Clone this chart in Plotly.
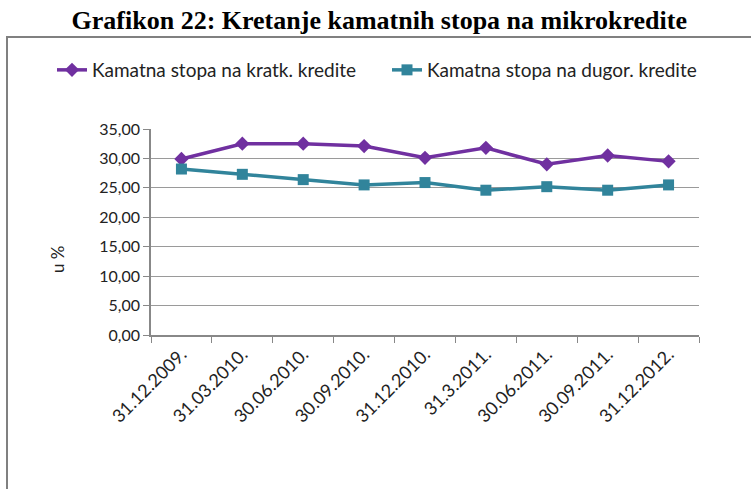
import plotly.graph_objects as go

categories = ["31.12.2009.", "31.03.2010.", "30.06.2010.", "30.09.2010.", "31.12.2010.",
              "31.3.2011.", "30.06.2011.", "30.09.2011.", "31.12.2012."]
short_term = [29.9, 32.5, 32.5, 32.1, 30.1, 31.8, 29.0, 30.5, 29.5]
long_term = [28.2, 27.3, 26.4, 25.5, 25.9, 24.6, 25.2, 24.6, 25.5]
series_names = ["Kamatna stopa na kratk. kredite", "Kamatna stopa na dugor. kredite"]
y_ticks = [0, 5, 10, 15, 20, 25, 30, 35]

W, H = 751, 489
L, R, T, B = 151, 52, 129, 154
pw, ph = W - L - R, H - T - B

def px(x):
    return (x - L) / pw

def py(y):
    return (H - B - y) / ph

font_main = "Lato, sans-serif"

fig = go.Figure()
fig.add_trace(go.Scatter(
    x=categories, y=short_term, name=series_names[0], mode="lines+markers",
    line=dict(color="#7030A0", width=3.5),
    marker=dict(symbol="diamond", size=11, color="#7030A0"),
))
fig.add_trace(go.Scatter(
    x=categories, y=long_term, name=series_names[1], mode="lines+markers",
    line=dict(color="#31849B", width=3.5),
    marker=dict(symbol="square", size=11, color="#31849B"),
))

fig.update_layout(
    width=W, height=H,
    margin=dict(l=L, r=R, t=T, b=B, autoexpand=False),
    paper_bgcolor="white", plot_bgcolor="white",
    separators=",.",
    title=dict(text="<b>Grafikon 22: Kretanje kamatnih stopa na mikrokredite</b>",
               x=0.505, xref="container", xanchor="center",
               y=1 - 20 / H, yref="container", yanchor="middle",
               font=dict(family="Liberation Serif, Times New Roman, serif", size=26, color="black")),
    legend=dict(orientation="h", x=px(52), xanchor="left", y=py(70), yanchor="middle",
                font=dict(family=font_main, size=19, color="#222"),
                itemwidth=30, entrywidth=290, entrywidthmode="pixels",
                tracegroupgap=0, bgcolor="rgba(0,0,0,0)"),
    showlegend=True,
    shapes=[dict(type="rect", xref="paper", yref="paper",
                 x0=px(7), x1=px(W + 20), y0=py(H + 20), y1=py(37),
                 line=dict(color="#808080", width=2), fillcolor="rgba(0,0,0,0)", layer="below")],
    annotations=[dict(text="u %", xref="paper", yref="paper", x=px(57), y=py(260),
                      textangle=-90, showarrow=False, xanchor="center", yanchor="middle",
                      font=dict(family=font_main, size=17, color="#222"))],
)

fig.update_xaxes(
    type="category", tickangle=-45, tickson="boundaries",
    ticks="outside", ticklen=6, tickcolor="#888888",
    showline=True, linecolor="#888888", linewidth=1.5,
    showgrid=False, range=[-0.5, len(categories) - 0.5],
    tickfont=dict(family=font_main, size=18, color="#222"),
)
fig.update_yaxes(
    range=[0, 35], tickvals=y_ticks, tickformat=".2f",
    ticks="outside", ticklen=6, tickcolor="#888888",
    showline=True, linecolor="#888888", linewidth=1.5,
    showgrid=True, gridcolor="#9a9a9a", gridwidth=1.2,
    zeroline=False,
    tickfont=dict(family=font_main, size=16, color="#222"),
)

fig.write_html("out.html", config={"displayModeBar": False},
               post_script="document.body.style.margin='0';document.body.style.overflow='hidden';")
